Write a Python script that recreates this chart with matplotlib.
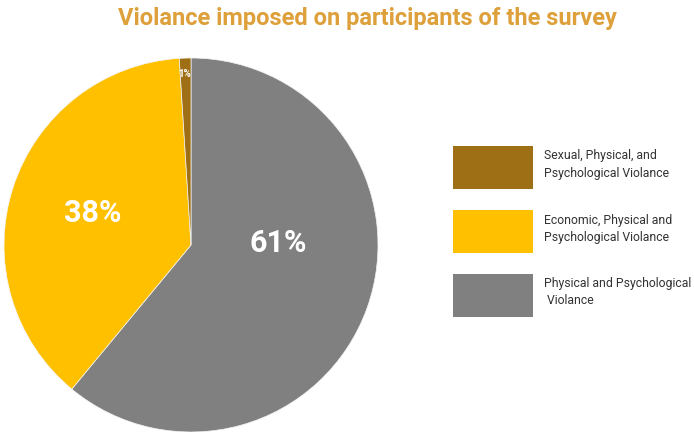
import numpy as np
import matplotlib
matplotlib.use("Agg")
import matplotlib.pyplot as plt
from matplotlib.patches import Rectangle

plt.rcParams['font.family'] = ['Roboto', 'DejaVu Sans']

categories = ["Sexual, Physical, and\nPsychological Violance",
              "Economic, Physical and\nPsychological Violance",
              "Physical and Psychological\n Violance"]
shares = [1, 38, 61]
colors = ["#9E6F14", "#FFC000", "#808080"]

W, H = 694, 432
fig = plt.figure(figsize=(W / 100, H / 100), dpi=100)
ax = fig.add_axes([4 / W, 0.0, 374 / W, 374 / H])

# clockwise from 12 o'clock: grey, yellow, brown
order = [2, 1, 0]
wedges, _, pcts = ax.pie([shares[i] for i in order], colors=[colors[i] for i in order],
                         startangle=90, counterclock=False, autopct='%1.0f%%',
                         radius=1, wedgeprops=dict(linewidth=0.5, edgecolor="#f4f4f4"))
ax.set_xlim(-1, 1)
ax.set_ylim(-1, 1)

# label radius / angle nudges per slice
label_r = [0.465, 0.55, 0.915]
label_shift = [21.0, 0.0, 0.5]
label_size = [22, 22, 7]
for w, t, r, d, fs in zip(wedges, pcts, label_r, label_shift, label_size):
    mid = np.deg2rad((w.theta1 + w.theta2) / 2 + d)
    t.set_position((r * np.cos(mid), r * np.sin(mid)))
    t.set_color("white")
    t.set_fontweight("bold")
    t.set_fontsize(fs)
    t.set_ha("center")
    t.set_va("center")

fig.text(367 / W, 1 - 19 / H, "Violance imposed on participants of the survey",
         ha="center", va="center", fontsize=17, fontweight="bold", color="#DDA03A")

# legend drawn by hand: big colour blocks with two-line labels
box_x, box_w, box_h = 453, 80, 43
box_tops = [146, 210, 274]
for top, c, lab in zip(box_tops, colors, categories):
    fig.add_artist(Rectangle((box_x / W, 1 - (top + box_h) / H), box_w / W, box_h / H,
                             transform=fig.transFigure, facecolor=c, edgecolor="none"))
    fig.text(544 / W, 1 - (top + box_h / 2 - 3) / H, lab, ha="left", va="center",
             fontsize=8.8, color="#333333", linespacing=1.4)

plt.savefig("out.png", dpi=100)
